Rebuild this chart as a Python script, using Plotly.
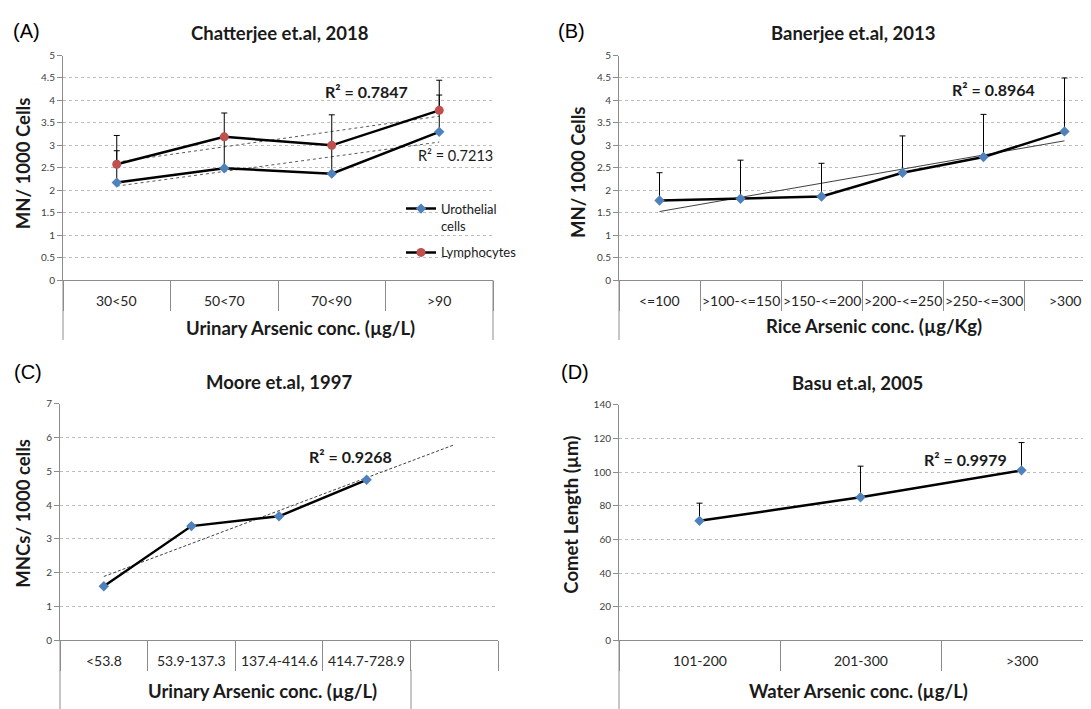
import plotly.graph_objects as go
import numpy as np

W, H = 1091, 709
OFF = 8  # default page body margin of the html page

# ---------------- data ----------------
a_cats = ["30<50", "50<70", "70<90", ">90"]
a_uro = [2.17, 2.49, 2.37, 3.30]
a_uro_err = [0.71, 0.70, 0.63, 0.82]
a_lym = [2.58, 3.19, 3.00, 3.78]
a_lym_err = [0.64, 0.53, 0.68, 0.67]

b_cats = ["<=100", ">100-<=150", ">150-<=200", ">200-<=250", ">250-<=300", ">300"]
b_vals = [1.77, 1.81, 1.86, 2.39, 2.74, 3.31]
b_err = [0.62, 0.86, 0.74, 0.82, 0.95, 1.19]

c_cats = ["<53.8", "53.9-137.3", "137.4-414.6", "414.7-728.9", " "]
c_vals = [1.60, 3.38, 3.67, 4.75]

d_cats = ["101-200", "201-300", ">300"]
d_vals = [71, 85, 101]
d_err = [10.5, 18.5, 16.5]

r2_labels = {"A_lym": "R² = 0.7847", "A_uro": "R² = 0.7213",
             "B": "R² = 0.8964", "C": "R² = 0.9268", "D": "R² = 0.9979"}

# ---------------- helpers ----------------
def fx(px):
    return (px - OFF) / W

def fy(py):
    return 1 - (py - OFF) / H

BLUE = "#4F81BD"
RED = "#C0504D"
AXC = "#8C8C8C"
FONT = "Lato"
TXT = "#1a1a1a"


def trend(vals, n_out):
    xi = np.arange(len(vals))
    p = np.polyfit(xi, vals, 1)
    return [np.polyval(p, 0), np.polyval(p, n_out - 1)]


fig = go.Figure()

err_style = dict(type="data", symmetric=False, color="black", thickness=1, width=3)

# ---- Panel A ----
fig.add_trace(go.Scatter(x=[a_cats[0], a_cats[-1]], y=trend(a_lym, 4), mode="lines",
                         line=dict(color="#595959", width=1, dash="dot"),
                         showlegend=False, xaxis="x", yaxis="y", hoverinfo="skip"))
fig.add_trace(go.Scatter(x=[a_cats[0], a_cats[-1]], y=trend(a_uro, 4), mode="lines",
                         line=dict(color="#595959", width=1, dash="dot"),
                         showlegend=False, xaxis="x", yaxis="y", hoverinfo="skip"))
fig.add_trace(go.Scatter(x=a_cats, y=a_uro, mode="lines+markers", name="Urothelial<br>cells",
                         legendgroup="uro",
                         line=dict(color="black", width=2.5),
                         marker=dict(symbol="diamond", size=8, color=BLUE),
                         error_y=dict(array=a_uro_err, arrayminus=[0] * 4, **err_style),
                         xaxis="x", yaxis="y"))
fig.add_trace(go.Scatter(x=a_cats, y=a_lym, mode="lines+markers", name="Lymphocytes",
                         legendgroup="lym",
                         line=dict(color="black", width=2.5),
                         marker=dict(symbol="circle", size=9, color=RED),
                         error_y=dict(array=a_lym_err, arrayminus=[0] * 4, **err_style),
                         xaxis="x", yaxis="y"))

# ---- Panel B ----
fig.add_trace(go.Scatter(x=[b_cats[0], b_cats[-1]], y=trend(b_vals, 6), mode="lines",
                         line=dict(color="#404040", width=1),
                         showlegend=False, xaxis="x2", yaxis="y2", hoverinfo="skip"))
fig.add_trace(go.Scatter(x=b_cats, y=b_vals, mode="lines+markers", showlegend=False,
                         line=dict(color="black", width=2.5),
                         marker=dict(symbol="diamond", size=8, color=BLUE),
                         error_y=dict(array=b_err, arrayminus=[0] * 6, **err_style),
                         xaxis="x2", yaxis="y2"))

# ---- Panel C ----
fig.add_trace(go.Scatter(x=[c_cats[0], c_cats[-1]], y=trend(c_vals, 5), mode="lines",
                         line=dict(color="#404040", width=1, dash="3px,2px"),
                         showlegend=False, xaxis="x3", yaxis="y3", hoverinfo="skip"))
fig.add_trace(go.Scatter(x=c_cats[:4], y=c_vals, mode="lines+markers", showlegend=False,
                         line=dict(color="black", width=2.5),
                         marker=dict(symbol="diamond", size=8, color=BLUE),
                         xaxis="x3", yaxis="y3"))

# ---- Panel D ----
fig.add_trace(go.Scatter(x=d_cats, y=d_vals, mode="lines+markers", showlegend=False,
                         line=dict(color="black", width=2.5),
                         marker=dict(symbol="diamond", size=8, color=BLUE),
                         error_y=dict(array=d_err, arrayminus=[0] * 3, **err_style),
                         xaxis="x4", yaxis="y4"))


def xax(cats, x0, x1, rng, anchor):
    return dict(type="category", categoryorder="array", categoryarray=cats,
                domain=[fx(x0), fx(x1)], range=rng, anchor=anchor,
                tickson="boundaries", ticks="outside", ticklen=30, tickcolor=AXC,
                tickwidth=1, showline=True, linecolor=AXC, linewidth=1,
                showgrid=False, zeroline=False, showticklabels=False, fixedrange=True)


def yax(y0, y1, rng, dtick, anchor):
    return dict(domain=[fy(y1), fy(y0)], range=rng, dtick=dtick, anchor=anchor,
                showline=True, linecolor=AXC, linewidth=1, ticks="outside", ticklen=5,
                tickcolor=AXC, showgrid=True, gridcolor="#BDBDBD", griddash="dot",
                gridwidth=1, zeroline=False,
                tickfont=dict(family=FONT, size=10, color="#404040"), fixedrange=True)


annotations = []


def ann(text, px, py, size, bold=False, family=FONT, angle=0, color=TXT):
    t = f"<b>{text}</b>" if bold else text
    annotations.append(dict(text=t, x=fx(px), y=fy(py), xref="paper", yref="paper",
                            showarrow=False, xanchor="center", yanchor="middle",
                            textangle=angle,
                            font=dict(family=family, size=size, color=color)))


# titles
ann("Chatterjee et.al, 2018", 280, 26, 18.5, bold=True)
ann("Banerjee et.al, 2013", 853, 26, 18.5, bold=True)
ann("Moore et.al, 1997", 279, 382, 18.5, bold=True)
ann("Basu et.al, 2005", 857, 383, 18.5, bold=True)
# panel letters
ann("(A)", 26, 24, 20, family="Liberation Sans", color="black")
ann("(B)", 571, 24, 20, family="Liberation Sans", color="black")
ann("(C)", 28, 372, 20, family="Liberation Sans", color="black")
ann("(D)", 575, 372, 20, family="Liberation Sans", color="black")
# y titles
ann("MN/ 1000 Cells", 23, 159, 18.5, bold=True, angle=-90)
ann("MN/ 1000 Cells", 578, 168, 18.5, bold=True, angle=-90)
ann("MNCs/ 1000 cells", 23, 516, 18.5, bold=True, angle=-90)
ann("Comet Length (µm)", 571, 517, 18.5, bold=True, angle=-90)
# x titles
ann("Urinary Arsenic conc. (µg/L)", 300, 327, 18.5, bold=True)
ann("Rice Arsenic conc. (µg/Kg)", 874, 325, 18.5, bold=True)
ann("Urinary Arsenic conc. (µg/L)", 263, 697, 18.5, bold=True)
ann("Water Arsenic conc. (µg/L)", 859, 697, 18.5, bold=True)


# category labels (centred between the boundary ticks)
def cat_labels(cats, xref, py):
    for i, c in enumerate(cats):
        if c.strip():
            annotations.append(dict(text=c, x=i, y=fy(py), xref=xref, yref="paper",
                                    showarrow=False, xanchor="center", yanchor="middle",
                                    font=dict(family=FONT, size=14, color="#262626")))


cat_labels(a_cats, "x", 298.5)
cat_labels(b_cats, "x2", 298.5)
cat_labels(c_cats, "x3", 666)
cat_labels(d_cats, "x4", 666)


def dann(text, x, y, xr, yr, bold, size):
    t = f"<b>{text}</b>" if bold else text
    annotations.append(dict(text=t, x=x, y=y, xref=xr, yref=yr, showarrow=False,
                            xanchor="center", yanchor="middle",
                            font=dict(family=FONT, size=size, color=TXT)))


dann(r2_labels["A_lym"], 2.32, 4.2, "x", "y", True, 16)
dann(r2_labels["A_uro"], 3.15, 2.77, "x", "y", False, 14.5)
dann(r2_labels["B"], 4.12, 4.25, "x2", "y2", True, 16)
dann(r2_labels["C"], 2.82, 5.43, "x3", "y3", True, 16)
dann(r2_labels["D"], 1.655, 107.3, "x4", "y4", True, 16)

shapes = []


def vline(px, py0, py1):
    shapes.append(dict(type="line", xref="paper", yref="paper", x0=fx(px), x1=fx(px),
                       y0=fy(py0), y1=fy(py1), line=dict(color=AXC, width=1)))


vline(63, 278, 339)
vline(493, 278, 339)
vline(619, 278, 339)
vline(60, 645, 720)
vline(411, 675, 720)
vline(619, 645, 720)

fig.update_layout(
    width=W, height=H, margin=dict(l=0, r=0, t=0, b=0),
    paper_bgcolor="white", plot_bgcolor="white",
    font=dict(family=FONT),
    xaxis=xax(a_cats, 63, 493, [-0.5, 3.5], "y"),
    yaxis=yax(49.3, 278, [0, 5], 0.5, "x"),
    xaxis2=xax(b_cats, 619, 1091, [-0.5, -0.5 + 472 / 81], "y2"),
    yaxis2=yax(49.3, 278, [0, 5], 0.5, "x2"),
    xaxis3=xax(c_cats, 60, 498, [-0.5, 4.5], "y3"),
    yaxis3=yax(404, 645, [0, 7], 1, "x3"),
    xaxis4=xax(d_cats, 619, 1091, [-0.5, -0.5 + 472 / 161], "y4"),
    yaxis4=yax(405, 645, [0, 140], 20, "x4"),
    legend=dict(x=fx(401), y=fy(190), xanchor="left", yanchor="top",
                bgcolor="rgba(0,0,0,0)", font=dict(family=FONT, size=13, color=TXT),
                itemwidth=30, valign="top", tracegroupgap=7),
    annotations=annotations, shapes=shapes, showlegend=True,
)

fig.write_html("out.html")
